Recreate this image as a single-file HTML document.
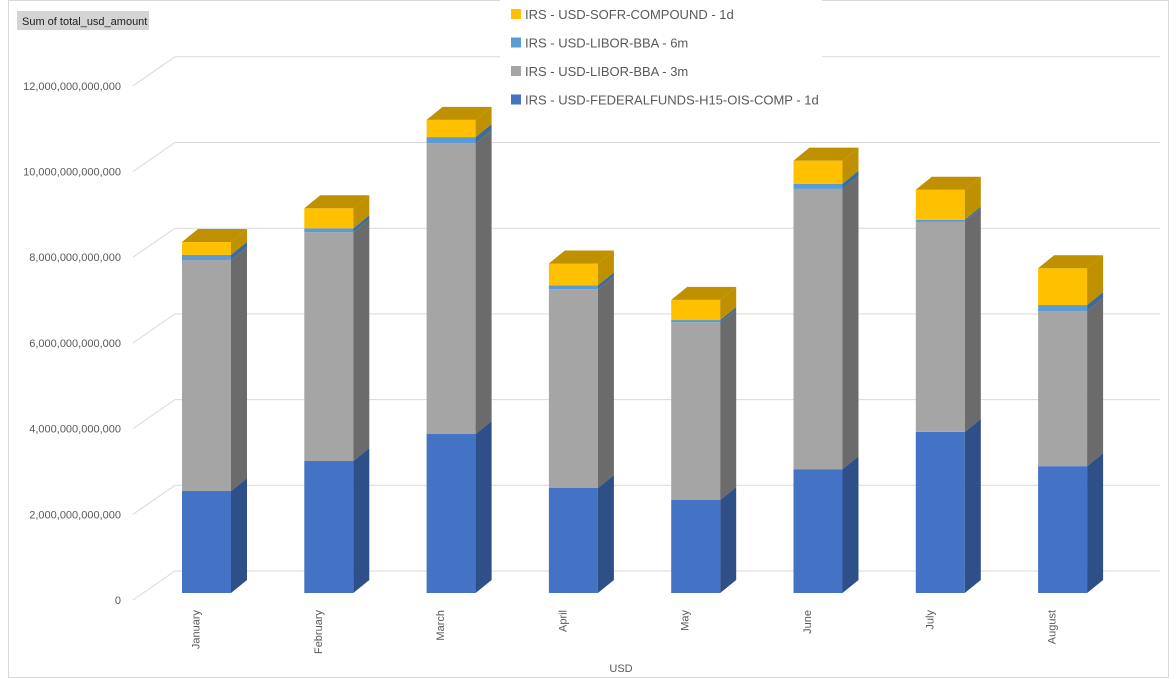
<!DOCTYPE html>
<html><head><meta charset="utf-8"><style>
body{margin:0;background:#fff;width:1176px;height:679px;overflow:hidden;font-family:"Liberation Sans",sans-serif}
svg{position:absolute;left:0;top:0}
</style></head><body>
<svg id="c" width="1176" height="679">
<rect x="8.5" y="0.5" width="1160" height="677" fill="#fff" stroke="#d9d9d9"/>
<rect x="17" y="11" width="132" height="19" fill="#d4d4d4"/>
<text x="22" y="25" font-size="11" fill="#222">Sum of total_usd_amount</text>
<g id="grid"></g><g id="bars"></g><g id="axis"></g>
<text x="621" y="672" font-size="11" fill="#595959" text-anchor="middle">USD</text>
<g id="legend"></g>
</svg>
<script>
const categories=["January","February","March","April","May","June","July","August"];
const fedFunds=[2.38,3.08,3.71,2.45,2.17,2.89,3.76,2.96];
const libor3m=[5.39,5.34,6.79,4.64,4.15,6.54,4.90,3.62];
const libor6m=[0.12,0.09,0.14,0.09,0.05,0.12,0.05,0.14];
const sofr=[0.30,0.47,0.40,0.51,0.47,0.54,0.70,0.86];
const yTicks=[0,2,4,6,8,10,12];
const yTickLabels=["0","2,000,000,000,000","4,000,000,000,000","6,000,000,000,000","8,000,000,000,000","10,000,000,000,000","12,000,000,000,000"];
const seriesNames=["IRS - USD-FEDERALFUNDS-H15-OIS-COMP - 1d","IRS - USD-LIBOR-BBA - 3m","IRS - USD-LIBOR-BBA - 6m","IRS - USD-SOFR-COMPOUND - 1d"];
const NS="http://www.w3.org/2000/svg";
const PPT=42.85;
function yBar(v){return 593-v*PPT;}
function yBack(v){return 571-v*PPT;}
function yFront(v){return 600-v*PPT;}
function xBar(i){return 182+i*122.3;}
function mk(t,a,p){const e=document.createElementNS(NS,t);for(const k in a)e.setAttribute(k,a[k]);p.appendChild(e);return e;}
const grid=document.getElementById('grid'),bars=document.getElementById('bars'),axis=document.getElementById('axis'),legend=document.getElementById('legend');
yTicks.forEach((t,i)=>{
 const g=mk('polyline',{points:`133,${yFront(t)} 175,${yBack(t)} 1160,${yBack(t)}`,fill:'none',stroke:'#d9d9d9','stroke-width':1},grid);
 
 
 const l=mk('text',{x:121,y:yFront(t)+4,'font-size':11,fill:'#595959','text-anchor':'end'},axis);
 l.textContent=yTickLabels[i];
 
 
});
const series=[fedFunds,libor3m,libor6m,sofr];
const front=['#4472c4','#a5a5a5','#5b9bd5','#ffc000'];
const side=['#2f4f88','#6b6b6b','#3c6c99','#bf9000'];
const topc=['#35599a','#808080','#4680b5','#bf9000'];
const W=49,DX=16,DY=13;
categories.forEach((c,i)=>{
 const x=xBar(i);let base=0;
 series.forEach((s,k)=>{
  const v=s[i],y0=yBar(base),y1=yBar(base+v);
  const f=mk('rect',{x:x,y:y1,width:W,height:y0-y1,fill:front[k]},bars);
  
  
  const sd=mk('polygon',{points:`${x+W},${y1} ${x+W+DX},${y1-DY} ${x+W+DX},${y0-DY} ${x+W},${y0}`,fill:side[k]},bars);
  
  
  base+=v;
  if(k===3){
   const tp=mk('polygon',{points:`${x},${y1} ${x+DX},${y1-DY} ${x+W+DX},${y1-DY} ${x+W},${y1}`,fill:topc[k]},bars);
   
   
  }
 });
 const t=mk('text',{transform:`translate(${x+W/2-7},${610}) rotate(-90)`,'font-size':11,fill:'#595959','text-anchor':'end'},axis);
 t.textContent=c;
 
 
});
const lb=mk('rect',{x:500,y:0,width:322,height:112,fill:'#fff'},legend);


[3,2,1,0].forEach((k,j)=>{
 const y=14+j*28.5;
 const sw=mk('rect',{x:511,y:y-5,width:10,height:10,fill:front[k]},legend);
 
 
 const t=mk('text',{x:525,y:y+5,'font-size':13,fill:'#595959'},legend);
 t.textContent=seriesNames[k];
 
 
});
</script>
</body></html>
